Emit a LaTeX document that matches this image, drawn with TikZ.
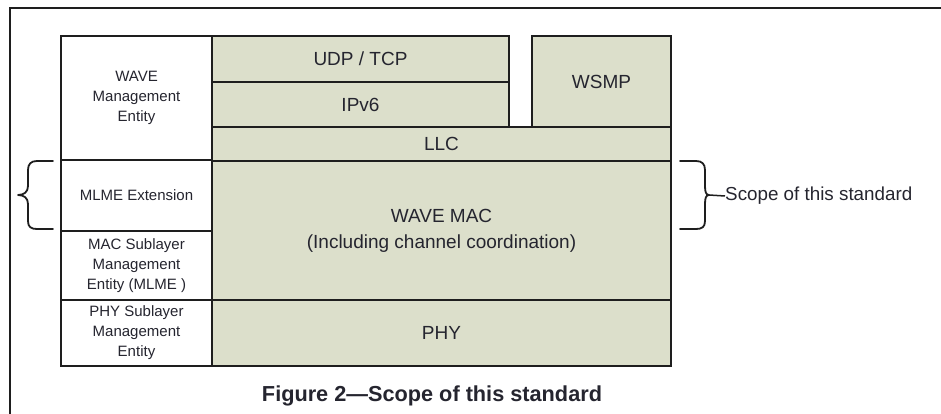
\documentclass[tikz,border=0pt]{standalone}
\usepackage{fontspec}
\setmainfont{Liberation Sans}
\begin{document}
\definecolor{layerfill}{HTML}{DCDFCB}
\definecolor{inkline}{HTML}{1E1E1E}
\definecolor{labelink}{HTML}{25252F}
\tikzset{
  box/.style={draw=inkline, line width=1.9pt, inner sep=0pt, outer sep=0pt,
    anchor=north west, align=center, text=labelink},
  layer/.style={box, fill=layerfill, font=\fontsize{19}{26}\selectfont},
  mgmt/.style={box, fill=white, font=\fontsize{15}{20}\selectfont},
  bracepath/.style={draw=inkline, line width=1.8pt, line cap=round, line join=round},
}
\begin{tikzpicture}[x=1pt, y=-1pt]
\useasboundingbox (0,0) rectangle (941,414);
% surrounding frame (only its top and left edges fall inside the page)
\draw[inkline, line width=1.8pt] (10,420) -- (10,8) -- (945,8);

% management column
\node[mgmt, minimum width=151pt, minimum height=124pt] (wme)  at (61,36)  {WAVE\\Management\\Entity};
\node[mgmt, minimum width=151pt, minimum height=71pt]  (mlx)  at (61,160) {MLME Extension};
\node[mgmt, minimum width=151pt, minimum height=69pt]  (mlme) at (61,231) {MAC Sublayer\\Management\\Entity (MLME )};
\node[mgmt, minimum width=151pt, minimum height=66pt]  (plme) at (61,300) {PHY Sublayer\\Management\\Entity};

% protocol layers
\node[layer, minimum width=297pt, minimum height=46pt]  (udp)  at (212,36)  {UDP / TCP};
\node[layer, minimum width=297pt, minimum height=45pt]  (ipv6) at (212,82)  {IPv6};
\node[layer, minimum width=139pt, minimum height=91pt]  (wsmp) at (532,36)  {WSMP};
\node[layer, minimum width=459pt, minimum height=34pt]  (llc)  at (212,127) {LLC};
\node[layer, minimum width=459pt, minimum height=139pt] (mac)  at (212,161) {WAVE MAC\\(Including channel coordination)};
\node[layer, minimum width=459pt, minimum height=66pt]  (phy)  at (212,300) {PHY};

% left brace beside the MLME extension
\draw[bracepath] (53,161) -- (37,161) .. controls (31,161) and (28,164) .. (28,170)
  -- (28,186) .. controls (28,192) and (24,195) .. (18,195)
  .. controls (24,195) and (28,198) .. (28,204)
  -- (28,221) .. controls (28,227) and (31,229) .. (37,229) -- (53,229);

% right brace and its label
\node[anchor=west, inner sep=0pt, text=labelink, font=\fontsize{18.8}{22}\selectfont] (scope) at (725,196) {Scope of this standard};
\coordinate (rtip) at (709,195);
\draw[bracepath] (680,161) -- (696,161) .. controls (702,161) and (705,164) .. (705,170)
  -- (705,186) .. controls (705,192) and (706,195) .. (rtip)
  .. controls (706,195) and (705,198) .. (705,204)
  -- (705,221) .. controls (705,227) and (702,229) .. (696,229) -- (680,229);
\draw[inkline, line width=1.5pt] (rtip) -- (scope.west);

% caption
\node[inner sep=0pt, text=labelink, font=\bfseries\fontsize{21.7}{26}\selectfont] (caption) at (432,396) {Figure 2—Scope of this standard};
\end{tikzpicture}
\end{document}
